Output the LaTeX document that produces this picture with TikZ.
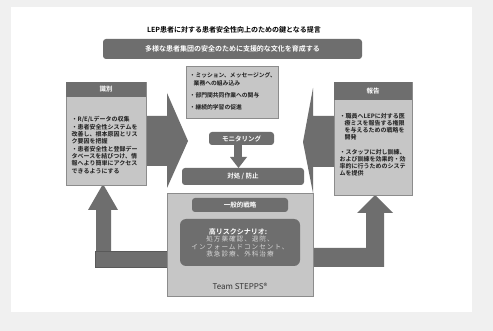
\documentclass[tikz,border=0pt]{standalone}
\usepackage{fontspec}
\setmainfont{Noto Sans CJK JP}[BoldFont={Noto Sans CJK JP Bold}]
\newfontfamily\spacedjp{Noto Sans CJK JP}[LetterSpace=15]
\definecolor{bgout}{HTML}{F0F0F0}
\definecolor{dk}{HTML}{6E6E6E}
\definecolor{lt}{HTML}{C6C6C6}
\definecolor{bd}{HTML}{8C8C8C}
\definecolor{txt}{HTML}{1E1E1E}
\definecolor{pale}{HTML}{D6D6D6}
\tikzset{
  lightbox/.style={fill=lt,draw=bd,line width=0.6pt},
  darkbar/.style={fill=dk,draw=none},
  pill/.style={fill=dk,draw=none,rounded corners=3pt},
  bigarrow/.style={fill=dk,draw=none},
  boxtext/.style={inner sep=0pt,align=left,text=txt,font=\fontsize{6}{7.3}\selectfont\bfseries},
  whitetext/.style={inner sep=0pt,text=white,font=\fontsize{6.5}{7.5}\selectfont\bfseries}
}
\begin{document}
\begin{tikzpicture}[x=1pt,y=-1pt]
\useasboundingbox (0,0) rectangle (493,331);
\fill[bgout] (0,0) rectangle (493,331);
\fill[white] (11,7) rectangle (472,312);
% title and banner
\node[inner sep=0pt,text=black,font=\fontsize{7}{8}\selectfont\bfseries] (title) at (234,30) {LEP患者に対する患者安全性向上のための鍵となる提言};
\fill[pill] (103,39) rectangle (362,59);
\node[whitetext,font=\fontsize{7}{8}\selectfont\bfseries] (banner) at (232.5,49) {多様な患者集団の安全のために支援的な文化を育成する};
% big chevron arrows
\fill[bigarrow] (146,116) -- (167,116) -- (167,93) -- (188,141) -- (167,188) -- (167,166) -- (146,166) -- cycle;
\fill[bigarrow] (334,116) -- (313,116) -- (313,88) -- (303,142) -- (313,193) -- (313,167) -- (334,167) -- cycle;
% L arrows
\fill[bigarrow] (103,184) -- (118,210) -- (111,210) -- (111,251) -- (96,251) -- (96,210) -- (88,210) -- cycle;
\filldraw[fill=dk,draw=black!65,line width=0.5pt] (95,251) rectangle (168,267);
\fill[bigarrow] (375,195) -- (393,213) -- (384,213) -- (384,267) -- (313,267) -- (313,248) -- (366,248) -- (366,213) -- (357,213) -- cycle;
% left box
\filldraw[lightbox] (66,82) rectangle (146,185);
\fill[darkbar] (66,82) rectangle (146,97);
\node[whitetext] (idlabel) at (106,89.5) {識別};
\node[boxtext,anchor=north west] (idtext) at (71.5,116.5) {・R/E/Lデータの収集\\・患者安全性システムを\\改善し、根本原因とリス\\ク要因を把握\\・患者安全性と登録デー\\タベースを結びつけ、情\\報へより簡単にアクセス\\できるようにする};
% right box
\filldraw[lightbox] (334,82) rectangle (412,195);
\fill[darkbar] (334,82) rectangle (412,100);
\node[whitetext] (replabel) at (373,91) {報告};
\node[boxtext,anchor=north west,font=\fontsize{6}{7}\selectfont\bfseries] (reptext) at (339.5,113.5) {・職員へLEPに対する医\\\hspace*{5pt}療ミスを報告する権限\\\hspace*{5pt}を与えるための戦略を\\\hspace*{5pt}開発\\[8pt]・スタッフに対し訓練、\\および訓練を効果的・効\\率的に行うためのシステ\\ムを提供};
% mission box
\filldraw[lightbox] (186,66) rectangle (278,118);
\node[boxtext,anchor=north west,font=\fontsize{5.8}{8}\selectfont\bfseries] (mission) at (189.5,72) {・ミッション、メッセージング、\\\hspace*{4pt}業務への組み込み\\[4pt]・部門間共同作業への関与\\[4pt]・継続的学習の促進};
% monitoring
\fill[pill] (209,132) rectangle (274,145);
\node[whitetext] (monitor) at (241.5,138.5) {モニタリング};
\fill[bigarrow] (234,145) rectangle (242,157);
\fill[bigarrow] (230,157) -- (247,157) -- (238.5,168) -- cycle;
\fill[pill] (182,168) rectangle (304,185);
\node[whitetext] (taisho) at (243,176.5) {対処 / 防止};
% center box
\filldraw[lightbox] (167,193) rectangle (313,296);
\fill[pill] (192,198) rectangle (288,212);
\node[whitetext] (general) at (240,205) {一般的戦略};
\fill[fill=dk,rounded corners=6pt] (180,219) rectangle (300,266);
\node[whitetext,font=\fontsize{7}{8}\selectfont\bfseries] (hrtitle) at (238,231.5) {高リスクシナリオ:};
\node[inner sep=0pt,text=pale,align=center,font=\fontsize{6.6}{7.6}\selectfont\spacedjp] (hrtext) at (240,246.5) {処方薬確認、退院、\\インフォームドコンセント、\\救急診療、外科治療};
\node[inner sep=0pt,text=black!80,font=\fontsize{8}{9}\selectfont] (team) at (240,286) {Team STEPPS®};
\end{tikzpicture}
\end{document}
